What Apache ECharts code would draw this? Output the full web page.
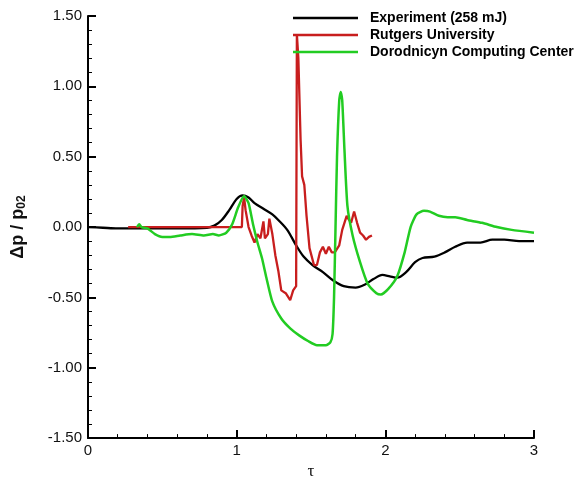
<!DOCTYPE html>
<html>
<head>
<meta charset="utf-8">
<script src="https://cdn.jsdelivr.net/npm/echarts@6/dist/echarts.min.js"></script>
<style>html,body{margin:0;padding:0;background:#fff;}#c{width:580px;height:485px;}</style>
</head>
<body>
<div id="c"></div>
<script>
const seriesNames = ['Experiment (258 mJ)', 'Rutgers University', 'Dorodnicyn Computing Center'];
const yTicks = [-1.5, -1.0, -0.5, 0, 0.5, 1.0, 1.5];
const xTicks = [0, 1, 2, 3];

const expX = [0, 0.1, 0.2, 0.4, 0.6, 0.8, 0.85, 0.9, 0.95, 1.0, 1.04, 1.08, 1.12, 1.18, 1.24, 1.28, 1.34, 1.40, 1.45, 1.51, 1.58, 1.65, 1.72, 1.80, 1.86, 1.92, 1.98, 2.03, 2.08, 2.14, 2.20, 2.25, 2.33, 2.40, 2.47, 2.55, 2.64, 2.72, 2.80, 2.90, 3.0];
const expY = [0, -0.005, -0.01, -0.01, -0.01, -0.005, 0.01, 0.05, 0.12, 0.2, 0.225, 0.21, 0.17, 0.13, 0.09, 0.05, -0.02, -0.13, -0.21, -0.27, -0.32, -0.38, -0.42, -0.43, -0.41, -0.37, -0.34, -0.35, -0.36, -0.32, -0.25, -0.22, -0.21, -0.18, -0.14, -0.11, -0.11, -0.09, -0.09, -0.10, -0.10];

const rutX = [0.27, 1.035, 1.04, 1.05, 1.06, 1.08, 1.10, 1.12, 1.14, 1.16, 1.18, 1.19, 1.21, 1.22, 1.24, 1.26, 1.28, 1.30, 1.33, 1.36, 1.38, 1.40, 1.405, 1.415, 1.43, 1.44, 1.455, 1.47, 1.49, 1.52, 1.54, 1.56, 1.58, 1.60, 1.62, 1.64, 1.66, 1.69, 1.71, 1.74, 1.75, 1.77, 1.79, 1.81, 1.83, 1.85, 1.87, 1.89, 1.91];
const rutY = [0, 0, 0.15, 0.21, 0.12, 0.0, -0.06, -0.11, -0.05, -0.08, 0.04, -0.08, -0.05, 0.06, -0.05, -0.2, -0.31, -0.45, -0.47, -0.52, -0.45, -0.42, 1.37, 1.20, 0.62, 0.36, 0.30, 0.08, -0.15, -0.27, -0.27, -0.18, -0.14, -0.19, -0.14, -0.18, -0.18, -0.13, -0.02, 0.08, 0.06, 0.03, 0.11, 0.03, -0.04, -0.06, -0.09, -0.07, -0.06];

const dorX = [0.33, 0.345, 0.36, 0.40, 0.45, 0.50, 0.55, 0.62, 0.70, 0.78, 0.84, 0.88, 0.93, 0.97, 1.01, 1.05, 1.08, 1.11, 1.14, 1.17, 1.20, 1.24, 1.30, 1.36, 1.42, 1.48, 1.54, 1.60, 1.63, 1.645, 1.655, 1.665, 1.675, 1.69, 1.70, 1.71, 1.725, 1.745, 1.78, 1.83, 1.88, 1.94, 1.97, 2.02, 2.08, 2.13, 2.17, 2.21, 2.26, 2.30, 2.36, 2.42, 2.47, 2.55, 2.65, 2.75, 2.85, 3.0];
const dorY = [0.0, 0.02, 0.0, -0.01, -0.05, -0.07, -0.07, -0.06, -0.05, -0.06, -0.05, -0.06, -0.04, 0.02, 0.14, 0.22, 0.17, 0.02, -0.11, -0.22, -0.36, -0.53, -0.65, -0.72, -0.77, -0.81, -0.84, -0.84, -0.82, -0.76, -0.5, 0.0, 0.5, 0.9, 0.96, 0.9, 0.55, 0.15, -0.06, -0.25, -0.40, -0.47, -0.48, -0.44, -0.35, -0.18, 0.0, 0.09, 0.115, 0.11, 0.08, 0.07, 0.07, 0.05, 0.03, 0.0, -0.02, -0.04];

const colors = ['#000000', '#c81e1e', '#22cc22'];
function pairs(xs, ys) { return xs.map((x, i) => [x, ys[i]]); }

const chart = echarts.init(document.getElementById('c'), null, {renderer: 'canvas'});
const axisFont = {fontFamily: 'Liberation Sans, Arial, sans-serif', fontSize: 15, color: '#111'};
chart.setOption({
  animation: false,
  backgroundColor: '#fff',
  grid: {left: 88, right: 46, top: 16, bottom: 38},
  legend: {
    orient: 'vertical', left: 293, top: 10, padding: 0,
    data: seriesNames,
    icon: 'rect', itemWidth: 65, itemHeight: 2.5, itemGap: 1,
    textStyle: {fontFamily: 'Liberation Sans, Arial, sans-serif', fontSize: 14, fontWeight: 'bold', color: '#000', lineHeight: 16, padding: [0, 0, 0, 7]}
  },
  xAxis: {
    type: 'value', min: 0, max: 3, interval: 1,
    name: 'τ', nameLocation: 'middle', nameGap: 24,
    nameTextStyle: {fontFamily: 'Liberation Serif, DejaVu Serif, serif', fontSize: 17, color: '#111'},
    axisLine: {show: true, onZero: false, lineStyle: {color: '#000', width: 2}},
    axisTick: {show: true, inside: true, length: 8, lineStyle: {color: '#000', width: 2}},
    minorTick: {show: true, splitNumber: 5, length: 4, lineStyle: {color: '#000', width: 1}},
    splitLine: {show: false},
    axisLabel: Object.assign({margin: 5, formatter: v => String(Math.round(v))}, axisFont)
  },
  yAxis: {
    type: 'value', min: -1.5, max: 1.5, interval: 0.5,
    name: '{a|Δp / p}{s|02}', nameLocation: 'middle', nameGap: 60, nameRotate: 90,
    nameTextStyle: {rich: {
      a: {fontFamily: 'Liberation Sans, Arial, sans-serif', fontSize: 18, fontWeight: 'bold', color: '#111'},
      s: {fontFamily: 'Liberation Sans, Arial, sans-serif', fontSize: 12, fontWeight: 'bold', color: '#111', verticalAlign: 'bottom', padding: [8, 0, 0, 0]}
    }},
    axisLine: {show: true, onZero: false, lineStyle: {color: '#000', width: 2}},
    axisTick: {show: true, inside: true, length: 8, lineStyle: {color: '#000', width: 2}},
    minorTick: {show: true, splitNumber: 5, length: 4, lineStyle: {color: '#000', width: 1}},
    splitLine: {show: false},
    axisLabel: Object.assign({margin: 6, formatter: v => v.toFixed(2)}, axisFont)
  },
  series: [
    {name: seriesNames[0], type: 'line', data: pairs(expX, expY), showSymbol: false, symbol: 'none', smooth: 0.3, lineStyle: {color: colors[0], width: 2.3}, itemStyle: {color: colors[0]}},
    {name: seriesNames[1], type: 'line', data: pairs(rutX, rutY), showSymbol: false, symbol: 'none', lineStyle: {color: colors[1], width: 2.3}, itemStyle: {color: colors[1]}},
    {name: seriesNames[2], type: 'line', data: pairs(dorX, dorY), showSymbol: false, symbol: 'none', smooth: 0.2, lineStyle: {color: colors[2], width: 2.5}, itemStyle: {color: colors[2]}}
  ]
});
</script>
</body>
</html>
